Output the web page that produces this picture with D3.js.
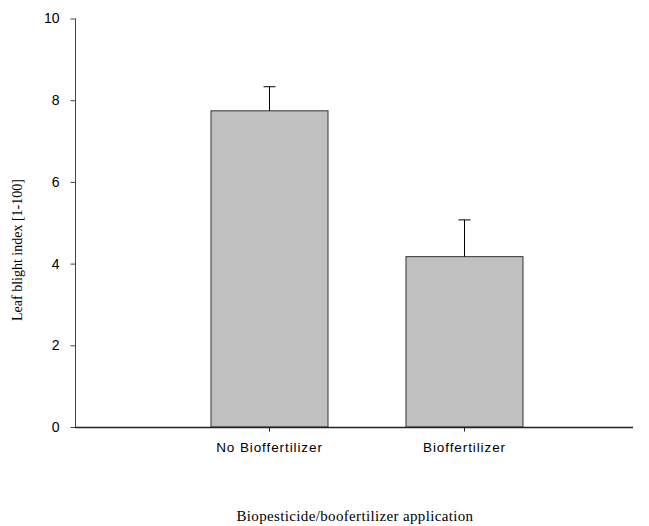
<!DOCTYPE html>
<html><head><meta charset="utf-8">
<script src="https://cdn.jsdelivr.net/npm/d3@7"></script>
<style>body{margin:0;background:#fff}</style>
</head><body>
<svg id="c" width="649" height="526"></svg>
<script>
const categories = ["No Bioffertilizer", "Bioffertilizer"];
const values = [7.74, 4.17];
const errors = [0.59, 0.90];
const yTicks = [0, 2, 4, 6, 8, 10];

const svg = d3.select("#c");
const y = d3.scaleLinear().domain([0, 10]).range([427, 18.5]);
const x = d3.scaleBand().domain(categories).range([172, 562]).paddingInner(0.4).paddingOuter(0.2);

// bars
svg.selectAll("rect.bar").data(categories).enter().append("rect")
  .attr("x", d => x(d)).attr("width", x.bandwidth())
  .attr("y", (d, i) => y(values[i])).attr("height", (d, i) => y(0) - y(values[i]))
  .attr("fill", "#c0c0c0").attr("stroke", "#333").attr("stroke-width", 1);

// error bars
const eb = svg.selectAll("g.err").data(categories).enter().append("g");
eb.append("line")
  .attr("x1", d => x(d) + x.bandwidth() / 2).attr("x2", d => x(d) + x.bandwidth() / 2)
  .attr("y1", (d, i) => y(values[i])).attr("y2", (d, i) => y(values[i] + errors[i]))
  .attr("stroke", "#000").attr("stroke-width", 1);
eb.append("line")
  .attr("x1", d => x(d) + x.bandwidth() / 2 - 6).attr("x2", d => x(d) + x.bandwidth() / 2 + 6)
  .attr("y1", (d, i) => y(values[i] + errors[i])).attr("y2", (d, i) => y(values[i] + errors[i]))
  .attr("stroke", "#000").attr("stroke-width", 1);

// y axis
const ya = svg.append("g").attr("transform", "translate(75.5,0)")
  .call(d3.axisLeft(y).tickValues(yTicks).tickSize(5).tickPadding(11));
ya.select(".domain").attr("d", `M0,${y(10)}H0V${y(0)}`).attr("stroke", "#444");
ya.selectAll(".tick line").attr("stroke", "#444");
ya.selectAll("text").attr("font-family", "Arial, 'Liberation Sans', sans-serif").attr("font-size", 14).attr("fill", "#000");

// x axis
const xa = svg.append("g").attr("transform", `translate(0,${y(0) + 0.5})`)
  .call(d3.axisBottom(x).tickSize(4).tickPadding(11).tickSizeOuter(0));
xa.select(".domain").attr("d", "M75,0H633").attr("stroke", "#222").attr("stroke-width", 1.3);
xa.selectAll(".tick line").attr("stroke", "#222");
xa.selectAll("text").attr("font-family", "Arial, 'Liberation Sans', sans-serif").attr("font-size", 13.5)
  .attr("letter-spacing", 0.9).attr("fill", "#000");

// titles
svg.append("text").attr("x", 355).attr("y", 521).attr("text-anchor", "middle")
  .attr("font-family", "'Liberation Serif', 'Times New Roman', serif").attr("font-size", 15)
  .attr("letter-spacing", 0.35)
  .text("Biopesticide/boofertilizer application");
svg.append("text").attr("transform", `translate(22,250) rotate(-90)`)
  .attr("text-anchor", "middle")
  .attr("font-family", "'Liberation Serif', 'Times New Roman', serif").attr("font-size", 14)
  .text("Leaf blight index [1-100]");
</script>
</body></html>
